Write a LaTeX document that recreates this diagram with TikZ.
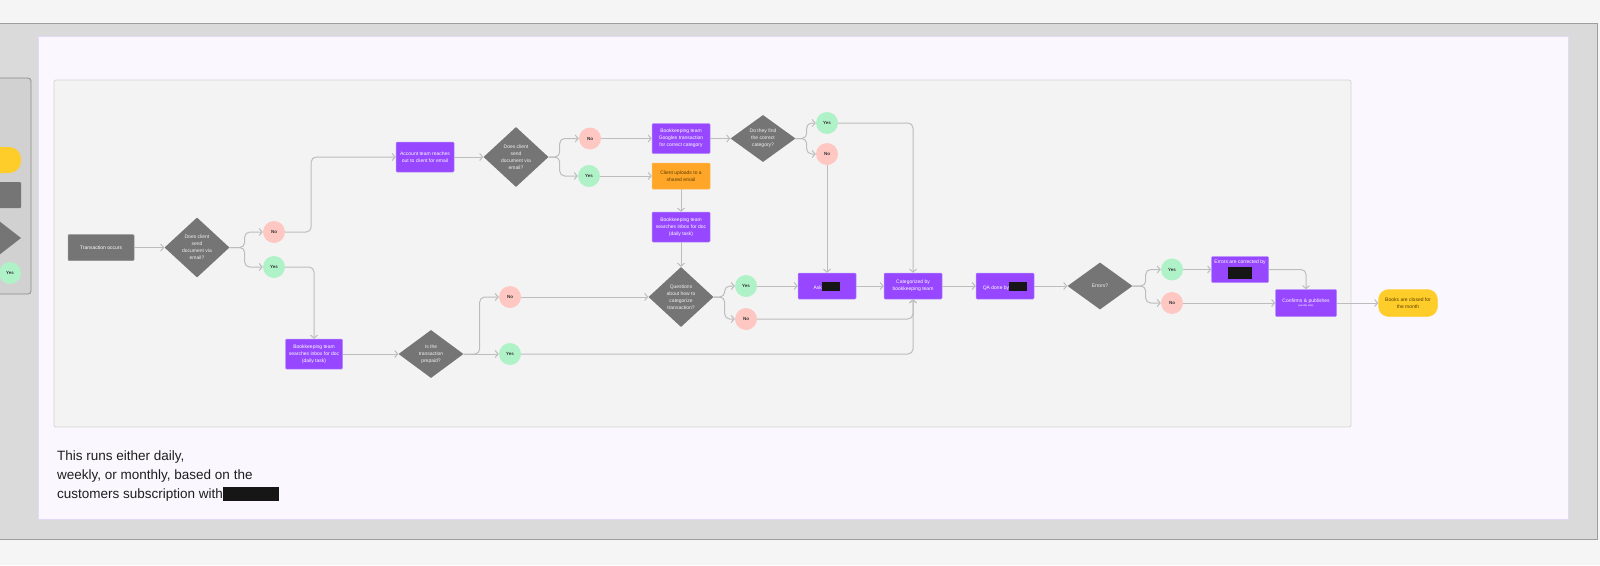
\documentclass[tikz,border=0pt]{standalone}
\usepackage{fontspec}
\setmainfont{Liberation Sans}
\usetikzlibrary{shapes.geometric,arrows.meta}
\definecolor{pagebg}{HTML}{F5F5F5}
\definecolor{framebg}{HTML}{DADADA}
\definecolor{frameline}{HTML}{9E9E9E}
\definecolor{lavbg}{HTML}{FAF7FE}
\definecolor{lavline}{HTML}{E4DAF5}
\definecolor{panelbg}{HTML}{F3F3F3}
\definecolor{panelline}{HTML}{D6D6D6}
\definecolor{purp}{HTML}{9747FF}
\definecolor{purpline}{HTML}{B58CFF}
\definecolor{dgray}{HTML}{757575}
\definecolor{orng}{HTML}{FFA629}
\definecolor{yell}{HTML}{FFCD29}
\definecolor{grn}{HTML}{B0F2C8}
\definecolor{rd}{HTML}{FFC7C2}
\definecolor{conncol}{HTML}{BDBDBD}
\definecolor{redact}{HTML}{161616}
\definecolor{brownt}{HTML}{5C3D00}
\definecolor{bodytext}{HTML}{1E1E1E}
\newcommand{\redbox}[2]{\textcolor{redact}{\rule[-1.5pt]{#1}{#2}}}
\begin{document}
\begin{tikzpicture}[x=1pt,y=-1pt,
  every node/.style={font=\fontsize{5}{7}\selectfont, align=center},
  proc/.style={rectangle, rounded corners=1pt, fill=purp, draw=purpline, line width=0.5pt, text=white, minimum width=58pt, minimum height=30pt, inner sep=0pt},
  procs/.style={proc, minimum height=26pt},
  dec/.style={diamond, fill=dgray, text=white!94!black, inner sep=0pt, minimum width=65pt, minimum height=60pt},
  decs/.style={dec, minimum height=47pt},
  yesc/.style={circle, fill=grn, minimum size=22pt, inner sep=0pt, text=black!80, font=\fontsize{4.5}{5}\selectfont\bfseries},
  noc/.style={circle, fill=rd, minimum size=22pt, inner sep=0pt, text=black!80, font=\fontsize{4.5}{5}\selectfont\bfseries},
  conn/.style={draw=conncol, line width=1pt, rounded corners=5pt, -{Straight Barb[length=3pt,width=7pt]}}
]
\useasboundingbox (0,0) rectangle (1600,565);
% backgrounds
\fill[pagebg] (0,0) rectangle (1600,565);
\draw[fill=framebg, draw=frameline, line width=1pt] (-5,23) rectangle (1597,539);
\draw[fill=lavbg, draw=lavline, line width=0.6pt] (38,36) rectangle (1568,519);
% legend panel (cut at left)
\draw[fill=framebg!96!black, draw=black!45, line width=0.8pt, rounded corners=3pt] (-10,78) rectangle (31,294);
\fill[yell, rounded corners=12pt] (-30,147) rectangle (21,173);
\fill[dgray, rounded corners=1pt] (-20,182) rectangle (21,208);
\fill[dgray] (21,238) -- (-10,214) -- (-10,262) -- cycle;
\node[yesc] (legyes) at (10,273) {Yes};
% flow panel
\draw[fill=panelbg, draw=panelline, line width=0.8pt, rounded corners=2pt] (54,80) rectangle (1351,427);

% nodes
\node[procs, fill=dgray, draw=dgray!80!white, minimum width=66pt] (t) at (101,247.5) {Transaction occurs};
\node[dec] (d1) at (197,247.5) {Does client\\send\\document via\\email?};
\node[noc] (no1) at (274,232) {No};
\node[yesc] (yes1) at (274,267) {Yes};
\node[proc] (acct) at (425,157) {Account team reaches\\out to client for email};
\node[dec] (d2) at (516,157) {Does client\\send\\document via\\email?};
\node[noc] (no2) at (590,138.5) {No};
\node[yesc] (yes2) at (589,176) {Yes};
\node[proc] (goog) at (681,138.5) {Bookkeeping team\\Googles transaction\\for correct category};
\node[procs, fill=orng, draw=orng!80!white, text=brownt] (client) at (681,176) {Client uploads to a\\shared email};
\node[proc] (inbox2) at (681,227) {Bookkeeping team\\searches inbox for doc\\(daily task)};
\node[dec] (q) at (681,297) {Questions\\about how to\\categorize\\transaction?};
\node[decs] (find) at (763,138.5) {Do they find\\the correct\\category?};
\node[yesc] (yes4) at (827,123) {Yes};
\node[noc] (no4) at (827,154) {No};
\node[yesc] (yes5) at (746,286) {Yes};
\node[noc] (no5) at (746,319) {No};
\node[procs] (ask) at (827,286) {Ask\hspace{0.5pt}\redbox{18pt}{9pt}};
\node[procs] (cat) at (913,286) {Categorized by\\bookkeeping team};
\node[procs] (qa) at (1005,286) {QA done by\redbox{18pt}{9pt}};
\node[decs] (err) at (1100,286) {Errors?};
\node[yesc] (yes6) at (1172,269.5) {Yes};
\node[noc] (no6) at (1172,303) {No};
\node[procs, minimum width=57pt] (corr) at (1240,269.5) {Errors are corrected by\\[1pt]\redbox{24pt}{12pt}};
\node[procs, minimum width=61pt, minimum height=27pt] (conf) at (1306,303) {Confirms \& publishes\\[-2.5pt]{\fontsize{2.6}{3}\selectfont (weekly task)}};
\node[procs, fill=yell, draw=yell!85!white, text=brownt, rounded corners=10pt, minimum width=59pt, minimum height=27pt] (books) at (1408,303) {Books are closed for\\the month};
\node[proc, minimum width=57pt] (inbox1) at (314,354) {Bookkeeping team\\searches inbox for doc\\(daily task)};
\node[decs, minimum height=48pt] (pre) at (431,354) {Is the\\transaction\\prepaid?};
\node[noc] (no3) at (510,297) {No};
\node[yesc] (yes3) at (510,354) {Yes};

% bottom note
\node[anchor=north west, align=left, inner sep=0pt, text=bodytext, font=\fontsize{13.5}{18.7}\selectfont] (note) at (57,451)
  {This runs either daily,\\weekly, or monthly, based on the\\customers subscription with\textcolor{redact}{\rule[-3pt]{56pt}{14pt}}};

% connectors
\draw[conn] (t.east) -- (d1.west);
\draw[conn] (d1.east) -- ++(15,0) |- (no1.west);
\draw[conn] (d1.east) -- ++(15,0) |- (yes1.west);
\draw[conn] (no1.east) -- ++(26,0) |- (acct.west);
\draw[conn] (yes1.east) -| (inbox1.north);
\draw[conn] (inbox1.east) -- (pre.west);
\draw[conn] (pre.east) -- ++(16,0) |- (no3.west);
\draw[conn] (pre.east) -- (yes3.west);
\draw[conn] (no3.east) -- (q.west);
\draw[conn] (yes3.east) -| (cat.south);
\draw[conn] (acct.east) -- (d2.west);
\draw[conn] (d2.east) -- ++(11,0) |- (no2.west);
\draw[conn] (d2.east) -- ++(11,0) |- (yes2.west);
\draw[conn] (no2.east) -- (goog.west);
\draw[conn] (yes2.east) -- (client.west);
\draw[conn] (client.south) -- (inbox2.north);
\draw[conn] (inbox2.south) -- (q.north);
\draw[conn] (goog.east) -- (find.west);
\draw[conn] (find.east) -- ++(11,0) |- (yes4.west);
\draw[conn] (find.east) -- ++(11,0) |- (no4.west);
\draw[conn] (yes4.east) -| (cat.north);
\draw[conn] (no4.south) -- (ask.north);
\draw[conn] (q.east) -- ++(11,0) |- (yes5.west);
\draw[conn] (q.east) -- ++(11,0) |- (no5.west);
\draw[conn] (yes5.east) -- (ask.west);
\draw[conn] (no5.east) -| (cat.south);
\draw[conn] (ask.east) -- (cat.west);
\draw[conn] (cat.east) -- (qa.west);
\draw[conn] (qa.east) -- (err.west);
\draw[conn] (err.east) -- ++(13,0) |- (yes6.west);
\draw[conn] (err.east) -- ++(13,0) |- (no6.west);
\draw[conn] (yes6.east) -- (corr.west);
\draw[conn] (no6.east) -- (conf.west);
\draw[conn] (corr.east) -| (conf.north);
\draw[conn] (conf.east) -- (books.west);
\end{tikzpicture}
\end{document}
